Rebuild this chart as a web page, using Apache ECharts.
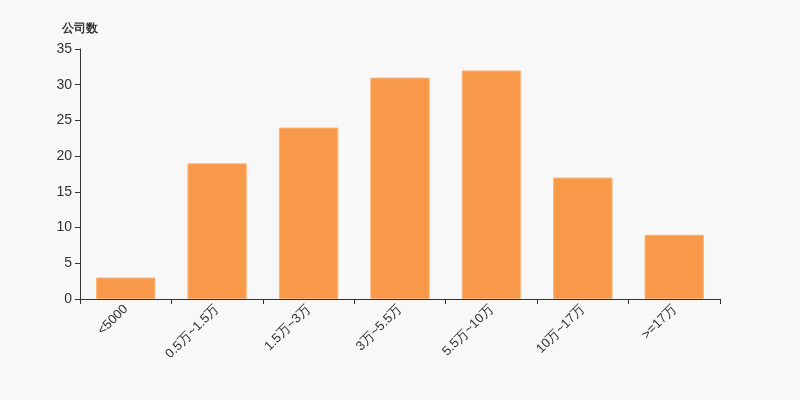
<!DOCTYPE html>
<html><head><meta charset="utf-8">
<script src="https://cdn.jsdelivr.net/npm/echarts@6/dist/echarts.min.js"></script>
<style>html,body{margin:0;padding:0;background:#f8f8f8}#c{width:800px;height:400px}</style>
</head><body><div id="c"></div>
<script>
const categories = ['<5000','0.5万~1.5万','1.5万~3万','3万~5.5万','5.5万~10万','10万~17万','>=17万'];
const values = [3, 19, 24, 31, 32, 17, 9];
const yTicks = {min: 0, max: 35, interval: 5};
const chart = echarts.init(document.getElementById('c'));
chart.setOption({
  backgroundColor: '#f8f8f8',
  animation: false,
  grid: {left: 80, right: 80, top: 49, bottom: 101},
  xAxis: {
    type: 'category', data: categories,
    axisLine: {lineStyle: {color: '#333'}},
    axisTick: {show: true, alignWithLabel: false, lineStyle: {color: '#333'}},
    axisLabel: {rotate: 45, color: '#333', fontSize: 13, interval: 0, fontFamily: 'sans-serif'}
  },
  yAxis: {
    type: 'value', min: yTicks.min, max: yTicks.max, interval: yTicks.interval,
    name: '公司数', nameGap: 14,
    nameTextStyle: {color: '#333', fontWeight: 'bold', fontSize: 12},
    axisLine: {show: true, lineStyle: {color: '#333'}},
    axisTick: {show: true, lineStyle: {color: '#333'}},
    splitLine: {show: false},
    axisLabel: {color: '#333', fontSize: 14, fontFamily: 'sans-serif'}
  },
  series: [{
    type: 'bar', data: values, barWidth: '65%',
    itemStyle: {color: '#f8994a', borderColor: '#fbb57a', borderWidth: 1}
  }]
});
</script></body></html>
